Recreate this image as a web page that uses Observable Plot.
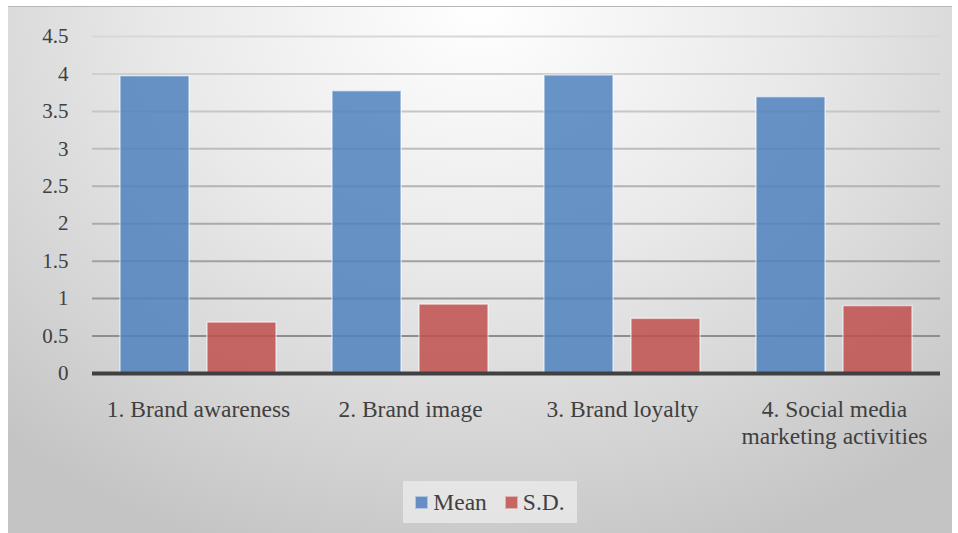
<!DOCTYPE html>
<html>
<head>
<meta charset="utf-8">
<script src="https://cdn.jsdelivr.net/npm/d3@7"></script>
<script src="https://cdn.jsdelivr.net/npm/@observablehq/plot@0.6"></script>
<style>
  html, body { margin: 0; padding: 0; background: #fff; }
  #chart {
    position: absolute; left: 8px; top: 6px; width: 944px; height: 527px;
    border-top: 1px solid #b8b8b8;
    box-sizing: border-box;
    background: radial-gradient(ellipse 75% 110% at 50% 0%, #ffffff 0%, #e9e9e9 45%, #d2d2d2 80%, #c4c4c4 100%);
    font-family: "Liberation Serif", "Times New Roman", serif;
  }
  #plot { position: absolute; left: 0; top: 0; }
  #legend {
    position: absolute; left: 395px; top: 474px; width: 174px; height: 42px;
    background: rgba(236,236,236,0.75);
    display: flex; align-items: center; justify-content: center; gap: 0;
    font-size: 23.5px; color: #404040;
  }
  .sw { display: inline-block; width: 11px; height: 11px; margin-right: 5px; border: 1px solid rgba(255,255,255,0.5); }
  .item { display: flex; align-items: center; }
</style>
</head>
<body>
<div id="chart">
  <div id="plot"></div>
  <div id="legend"></div>
</div>
<script>
const categories = ["1. Brand awareness", "2. Brand image", "3. Brand loyalty", "4. Social media marketing activities"];
const categoryLabels = ["1. Brand awareness", "2. Brand image", "3. Brand loyalty", "4. Social media\nmarketing activities"];
const series = ["Mean", "S.D."];
const meanValues = [3.97, 3.77, 3.98, 3.69];
const sdValues = [0.68, 0.92, 0.73, 0.90];
const yTicks = [0, 0.5, 1, 1.5, 2, 2.5, 3, 3.5, 4, 4.5];
const colors = ["#4f81bd", "#c0504d"];

const data = [];
categories.forEach((c, i) => {
  data.push({category: c, series: "Mean", value: meanValues[i]});
  data.push({category: c, series: "S.D.", value: sdValues[i]});
});

const gridColor = d3.scaleLinear().domain([4.5, 0.5]).range(["#d8d8d8", "#8e8e8e"]);

const chart = Plot.plot({
  width: 944,
  height: 460,
  marginLeft: 84,
  marginRight: 12,
  marginTop: 29,
  marginBottom: 94,
  style: {background: "transparent", fontFamily: "'Liberation Serif', 'Times New Roman', serif", color: "#404040"},
  fx: {domain: categories, padding: 0, label: null},
  x: {domain: series, paddingInner: 0.2045, paddingOuter: 0.3068, axis: null},
  y: {domain: [0, 4.5], label: null, ticks: yTicks},
  color: {domain: series, range: colors},
  marks: [
    Plot.ruleY(yTicks.filter(d => d > 0), {stroke: d => gridColor(d), strokeWidth: 2}),
    Plot.barY(data, {
      fx: "category", x: "series", y: "value", fill: "series", fillOpacity: 0.85,
      stroke: "white", strokeOpacity: 0.55, strokeWidth: 1.5
    }),
    Plot.ruleY([0], {stroke: "#404040", strokeWidth: 4}),
    Plot.axisY({ticks: yTicks, tickSize: 0, tickPadding: 24, fontSize: 21, label: null, tickFormat: d => String(d)}),
    Plot.axisFx({
      anchor: "bottom", tickSize: 0, tickPadding: 24, fontSize: 23.5, label: null,
      tickFormat: (d) => categoryLabels[categories.indexOf(d)], lineHeight: 1.15
    })
  ]
});
document.getElementById("plot").appendChild(chart);

const legend = document.getElementById("legend");
series.forEach((s, i) => {
  const item = document.createElement("div");
  item.className = "item";
  item.style.marginLeft = i === 0 ? "0px" : "18px";
  const sw = document.createElement("span");
  sw.className = "sw";
  sw.style.background = colors[i];
  sw.style.opacity = 0.85;
  item.appendChild(sw);
  const t = document.createElement("span");
  t.textContent = s;
  item.appendChild(t);
  legend.appendChild(item);
});
</script>
</body>
</html>
